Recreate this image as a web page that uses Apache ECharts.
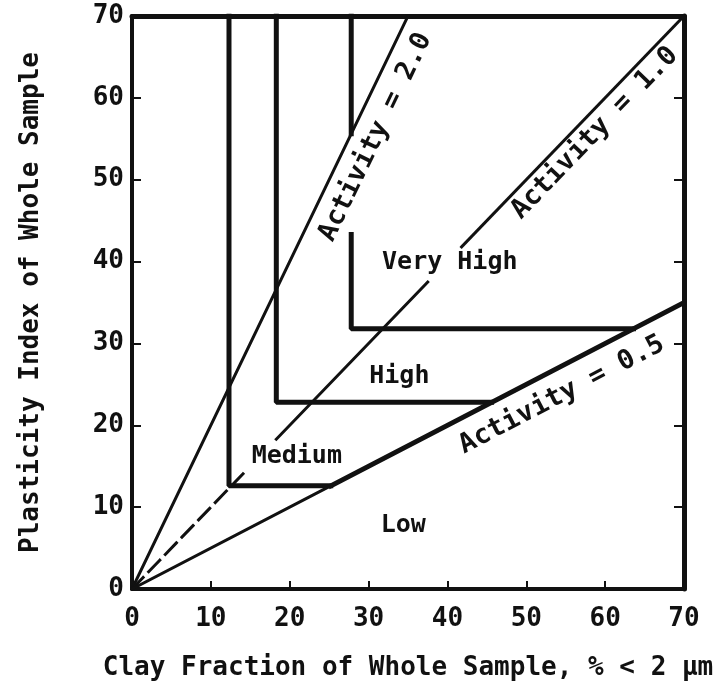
<!DOCTYPE html>
<html>
<head>
<meta charset="utf-8">
<title>Activity chart</title>
<script src="https://cdn.jsdelivr.net/npm/echarts@6/dist/echarts.min.js"></script>
<style>
  html, body { margin: 0; padding: 0; background: #fff; }
  #chart { width: 723px; height: 696px; }
</style>
</head>
<body>
<div id="chart"></div>
<script>
// axis range (both axes)
const axisMin = 0
const axisMax = 70
const tickStep = 10

// activity lines, PI = A * clay fraction
const activity2 = [[0, 0], [35, 70]]
const activity1Dashed = [[0, 0], [14.3, 14.3]]
const activity1Mid = [[18.3, 18.3], [37.5, 37.5]]
const activity1Upper = [[41.8, 41.8], [70, 70]]
const activity05Thin = [[0, 0], [25.2, 12.6]]
const activity05Thick = [[25.2, 12.6], [70, 35]]

// class boundaries
const mediumBound = [[12.3, 70], [12.3, 12.6], [25.2, 12.6]]
const highBound = [[18.3, 70], [18.3, 22.8], [45.6, 22.8]]
const veryHighLower = [[27.8, 43.3], [27.8, 31.8], [63.6, 31.8]]
const veryHighUpper = [[27.8, 55.6], [27.8, 70]]

// zone names and where they sit
const zoneNames = ['Very High', 'High', 'Medium', 'Low']
const zonePos = [[40.3, 39.9], [33.9, 25.9], [20.9, 16.2], [34.4, 7.7]]

// activity values and label positions
const activityValues = [2.0, 1.0, 0.5]
const activityPos = [[30.9, 55.2], [58.7, 55.7], [54.5, 23.7]]

const font = 'DejaVu Sans Mono'
const ink = '#111'

const grid = { left: 132, right: 39, top: 16, bottom: 107 }
const plotW = 723 - grid.left - grid.right
const plotH = 696 - grid.top - grid.bottom

// screen angle of a line PI = a * x
const angleOf = (a) => Math.atan(a * plotH / plotW) * 180 / Math.PI

const seg = (data, width, dashed) => ({
    type: 'line',
    data: data,
    showSymbol: false,
    silent: true,
    lineStyle: { color: ink, width: width, type: dashed ? [16, 8] : 'solid', cap: 'square' },
    z: 3
})

const textStyle = (size) => ({
    show: true,
    position: 'inside',
    formatter: '{b}',
    fontFamily: font,
    fontSize: size,
    fontWeight: 'bold',
    color: ink,
    textBorderWidth: 0
})

const chart = echarts.init(document.getElementById('chart'))

const option = {
    animation: false,
    backgroundColor: '#fff',
    grid: grid,
    xAxis: [
        {
            type: 'value',
            min: axisMin,
            max: axisMax,
            interval: tickStep,
            name: 'Clay Fraction of Whole Sample, % < 2 μm',
            nameLocation: 'middle',
            nameGap: 66,
            nameTextStyle: { fontFamily: font, fontSize: 26, fontWeight: 'bold', color: ink },
            axisLine: { onZero: false, lineStyle: { color: ink, width: 4 } },
            axisTick: { inside: true, length: 8, lineStyle: { color: ink, width: 2 } },
            axisLabel: { fontFamily: font, fontSize: 26, fontWeight: 'bold', color: ink, margin: 17 },
            splitLine: { show: false }
        },
        {
            type: 'value',
            position: 'top',
            min: axisMin,
            max: axisMax,
            interval: tickStep,
            axisLine: { show: true, onZero: false, lineStyle: { color: ink, width: 5 } },
            axisTick: { show: false },
            axisLabel: { show: false },
            splitLine: { show: false }
        }
    ],
    yAxis: [
        {
            type: 'value',
            min: axisMin,
            max: axisMax,
            interval: tickStep,
            name: 'Plasticity Index of Whole Sample',
            nameLocation: 'middle',
            nameGap: 88,
            nameTextStyle: { fontFamily: font, fontSize: 26, fontWeight: 'bold', color: ink },
            axisLine: { show: true, onZero: false, lineStyle: { color: ink, width: 4 } },
            axisTick: { show: true, inside: true, length: 9, lineStyle: { color: ink, width: 2 } },
            axisLabel: { fontFamily: font, fontSize: 26, fontWeight: 'bold', color: ink, margin: 8 },
            splitLine: { show: false }
        },
        {
            type: 'value',
            position: 'right',
            min: axisMin,
            max: axisMax,
            interval: tickStep,
            axisLine: { show: true, onZero: false, lineStyle: { color: ink, width: 5 } },
            axisTick: { show: true, inside: true, length: 10, lineStyle: { color: ink, width: 2 } },
            axisLabel: { show: false },
            splitLine: { show: false }
        }
    ],
    series: [
        seg(activity2, 3),
        seg(activity1Dashed, 3, true),
        seg(activity1Mid, 3),
        seg(activity1Upper, 3),
        seg(activity05Thin, 3),
        seg(activity05Thick, 5),
        seg(mediumBound, 5),
        seg(highBound, 5),
        seg(veryHighLower, 5),
        seg(veryHighUpper, 5),
        {
            // zone names
            type: 'scatter',
            symbolSize: 1,
            itemStyle: { color: 'rgba(0,0,0,0)', opacity: 1 },
            silent: true,
            labelLayout: { hideOverlap: false },
            data: zonePos.map((p, i) => ({ value: p, name: zoneNames[i] })),
            label: textStyle(25),
            z: 4
        },
        {
            // activity labels along their lines
            type: 'scatter',
            symbolSize: 1,
            itemStyle: { color: 'rgba(0,0,0,0)', opacity: 1 },
            silent: true,
            labelLayout: { hideOverlap: false },
            data: activityPos.map((p, i) => ({
                value: p,
                name: 'Activity = ' + activityValues[i].toFixed(1),
                label: { rotate: angleOf(activityValues[i]) }
            })),
            label: textStyle(27),
            z: 4
        }
    ]
}

chart.setOption(option)
</script>
</body>
</html>
